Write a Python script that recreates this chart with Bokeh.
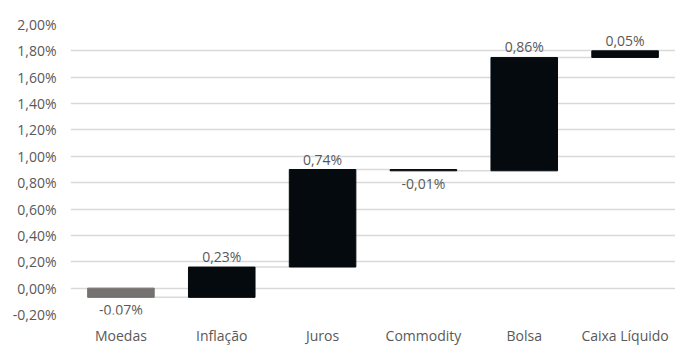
from bokeh.plotting import figure
from bokeh.models import ColumnDataSource, FixedTicker, CustomJSTickFormatter
from bokeh.transform import dodge
from bokeh.core.properties import value
from bokeh.embed import file_html
from bokeh.resources import INLINE

categories = ["Moedas", "Inflação", "Juros", "Commodity", "Bolsa", "Caixa Líquido"]
contrib = [-0.07, 0.23, 0.74, -0.01, 0.86, 0.05]
bar_colors = ["#767171", "#050a0e", "#050a0e", "#050a0e", "#050a0e", "#050a0e"]
y_ticks = [-0.2, 0.0, 0.2, 0.4, 0.6, 0.8, 1.0, 1.2, 1.4, 1.6, 1.8, 2.0]

FONT = "Open Sans"
TXT = "#595959"

bottoms, tops, labels, label_y, baselines, offsets = [], [], [], [], [], []
run = 0.0
for v in contrib:
    start = run
    run = run + v
    bottoms.append(min(start, run))
    tops.append(max(start, run))
    labels.append(f"{v:.2f}".replace(".", ",") + "%")
    if v >= 0:
        label_y.append(max(start, run)); baselines.append("bottom"); offsets.append(-1)
    else:
        label_y.append(min(start, run)); baselines.append("top"); offsets.append(3)

src = ColumnDataSource(dict(cat=categories, bottom=bottoms, top=tops, color=bar_colors,
                            label=labels, ly=label_y, base=baselines, off=offsets))

cum = [sum(contrib[:i + 1]) for i in range(len(contrib))]
con = ColumnDataSource(dict(c0=categories[:-1], c1=categories[1:], y=cum[:-1]))

p = figure(x_range=categories, y_range=(-0.2, 2.0), width=675, height=347,
           output_backend="svg", toolbar_location=None,
           min_border_left=70, min_border_right=0, min_border_top=24, min_border_bottom=30)
p.outline_line_color = None
p.background_fill_color = "white"

p.segment(x0=dodge("c0", 0.33, range=p.x_range), x1=dodge("c1", -0.33, range=p.x_range),
          y0="y", y1="y", source=con, line_color="#d9d9d9", line_width=1.5)

p.vbar(x="cat", bottom="bottom", top="top", width=0.66, source=src,
       fill_color="color", line_color="color", line_width=1)

p.text(x="cat", y="ly", text="label", text_baseline="base", y_offset="off",
       text_align="center", source=src, text_font=value(FONT), text_font_size="14px",
       text_color=TXT)

p.yaxis.ticker = FixedTicker(ticks=y_ticks)
p.yaxis.formatter = CustomJSTickFormatter(code="return tick.toFixed(2).replace('.', ',') + '%';")
for ax in (p.xaxis, p.yaxis):
    ax.axis_line_color = None
    ax.major_tick_line_color = None
    ax.minor_tick_line_color = None
    ax.major_label_text_font = FONT
    ax.major_label_text_font_size = "14px"
    ax.major_label_text_color = TXT
p.yaxis.major_label_standoff = 8
p.xaxis.major_label_standoff = 5

p.xgrid.grid_line_color = None
p.ygrid.grid_line_color = "#d9d9d9"
p.ygrid.grid_line_width = 1.5
p.ygrid.ticker = FixedTicker(ticks=y_ticks)

open("out.html", "w").write(file_html(p, INLINE))
